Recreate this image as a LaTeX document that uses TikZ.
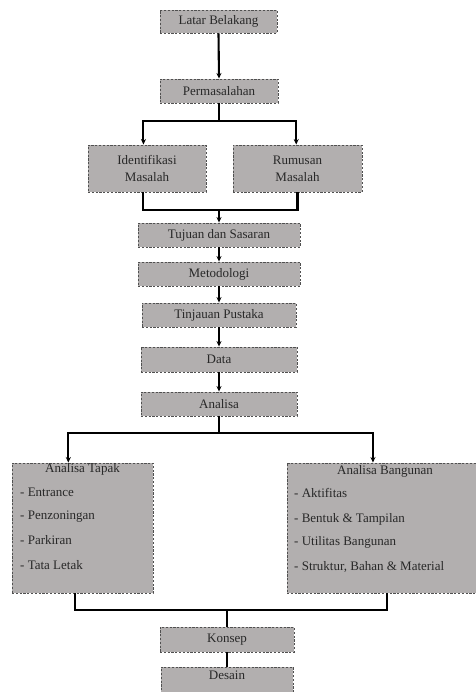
\documentclass[tikz,border=0pt]{standalone}
\usepackage{fontspec}
\setmainfont{Liberation Serif}
\usetikzlibrary{arrows.meta,calc}
\definecolor{boxfill}{RGB}{178,175,175}
\definecolor{boxline}{RGB}{80,80,80}
\definecolor{txt}{RGB}{40,40,40}
\begin{document}
\begin{tikzpicture}[x=1pt,y=-1pt,
  box/.style={draw=boxline,fill=boxfill,line width=0.9pt,dash pattern=on 2.2pt off 1.6pt,
    inner sep=0pt,text=txt,font=\fontsize{13}{17}\selectfont,align=center},
  lbl/.style={inner sep=0pt,text=txt,font=\fontsize{13}{15}\selectfont},
  conn/.style={line width=2.1pt,black},
  arr/.style={conn,-{Stealth[length=5.5pt,width=5pt]}}]
\useasboundingbox[fill=white] (0,0) rectangle (475,692);

\node[box,minimum width=117pt,minimum height=23pt] (latar) at (218.5,21.5) {Latar Belakang};
\node[box,minimum width=118pt,minimum height=24pt] (perm) at (219,91) {Permasalahan};
\node[box,minimum width=118pt,minimum height=47pt] (iden) at (147,168.5) {Identifikasi\\Masalah};
\node[box,minimum width=129pt,minimum height=47pt] (rum) at (297.5,168.5) {Rumusan\\Masalah};
\node[box,minimum width=162pt,minimum height=24pt] (tujuan) at (219,235) {Tujuan dan Sasaran};
\node[box,minimum width=162pt,minimum height=24pt] (metod) at (219,274) {Metodologi};
\node[box,minimum width=154pt,minimum height=24pt] (tinj) at (219,315) {Tinjauan Pustaka};
\node[box,minimum width=156pt,minimum height=25pt] (data) at (219,359.5) {Data};
\node[box,minimum width=156pt,minimum height=24pt] (analisa) at (219,404) {Analisa};
\node[box,minimum width=141pt,minimum height=130pt] (tapak) at (82.5,528) {};
\node[box,minimum width=189pt,minimum height=130pt] (bang) at (381.5,528) {};
\node[box,minimum width=134pt,minimum height=25pt] (konsep) at (227,639.5) {Konsep};
\node[box,minimum width=132pt,minimum height=34pt] (desain) at (227,684) {};
\node[lbl] (desaint) at (227,675) {Desain};

% texts in the large boxes
\node[lbl,anchor=north] (tapakt) at ($(tapak.north)+(0,1)$) {Analisa Tapak};
\node[lbl,anchor=west] (t1) at (20,492) {- Entrance};
\node[lbl,anchor=west] (t2) at (20,517) {- Penzoningan};
\node[lbl,anchor=west] (t3) at (20,540) {- Parkiran};
\node[lbl,anchor=west] (t4) at (20,565) {- Tata Letak};
\node[lbl,anchor=north] (bangt) at (385,465) {Analisa Bangunan};
\node[lbl,anchor=west] (b1) at (294,493) {- Aktifitas};
\node[lbl,anchor=west] (b2) at (294,519) {- Bentuk \& Tampilan};
\node[lbl,anchor=west] (b3) at (294,542) {- Utilitas Bangunan};
\node[lbl,anchor=west] (b4) at (294,567) {- Struktur, Bahan \& Material};

% junction points
\coordinate (j1) at (219,121);
\coordinate (j2) at (219,210);
\coordinate (j3) at (219,433);
\coordinate (j4) at (227,610);

\draw[arr] (latar.south) -- (perm.north);
\draw[conn] (perm.south) -- (j1);
\draw[arr] (j1) -| ($(iden.north west)!0.47!(iden.north east)$);
\draw[arr] (j1) -| ($(rum.north west)!0.49!(rum.north east)$);
\draw[conn] ($(iden.south west)!0.47!(iden.south east)$) |- (j2) -| ($(rum.south west)!0.5!(rum.south east)$);
\draw[arr] (j2) -- (tujuan.north);
\draw[arr] (tujuan.south) -- (metod.north);
\draw[arr] (metod.south) -- (tinj.north);
\draw[arr] (tinj.south) -- (data.north);
\draw[arr] (data.south) -- (analisa.north);
\draw[conn] (analisa.south) -- (j3);
\draw[arr] (j3) -| ($(tapak.north west)!0.4!(tapak.north east)$);
\draw[arr] (j3) -| ($(bang.north west)!0.455!(bang.north east)$);
\draw[conn] ($(tapak.south west)!0.447!(tapak.south east)$) |- (j4) -| ($(bang.south west)!0.53!(bang.south east)$);
\draw[conn] (j4) -- (konsep.north);
\draw[conn] (konsep.south) -- (desain.north);
\end{tikzpicture}
\end{document}
